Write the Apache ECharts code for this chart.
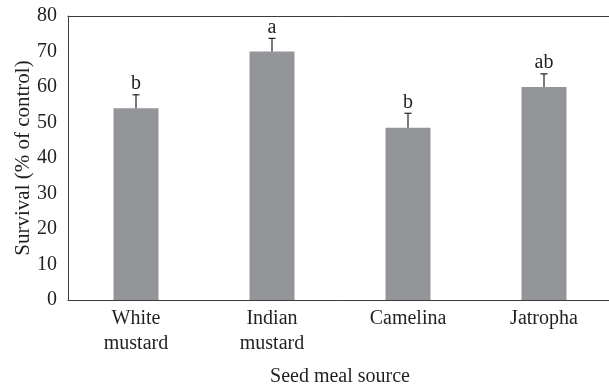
<!DOCTYPE html>
<html>
<head>
<meta charset="utf-8">
<script src="https://cdn.jsdelivr.net/npm/echarts@6/dist/echarts.min.js"></script>
<style>
  html, body { margin: 0; padding: 0; background: #fff; }
  #chart { width: 609px; height: 385px; }
</style>
</head>
<body>
<div id="chart"></div>
<script>
// Seed meal sources and mean survival (% of control)
const categories = ['White\nmustard', 'Indian\nmustard', 'Camelina', 'Jatropha'];
const survival = [54, 70, 48.5, 60];
// Upper end of each error bar
const errorTop = [57.8, 73.7, 52.6, 63.7];
// Significance letters
const letters = ['b', 'a', 'b', 'ab'];
const yTicks = { min: 0, max: 80, interval: 10 };

const FONT = '"Liberation Serif", "DejaVu Serif", serif';
const INK = '#231f20';
const AXIS = '#3a3a3a';
const FS = 20;

const chart = echarts.init(document.getElementById('chart'), null, { renderer: 'canvas' });

chart.setOption({
  animation: false,
  grid: {
    left: 68, top: 16, right: -3, bottom: 85,
    outerBoundsMode: 'none'
  },
  xAxis: [
    {
      type: 'category',
      data: categories,
      name: 'Seed meal source',
      nameLocation: 'middle',
      nameGap: 67,
      nameMoveOverlap: false,
      nameTextStyle: { fontFamily: FONT, fontSize: FS, color: INK },
      axisLine: { lineStyle: { color: AXIS, width: 1 } },
      axisTick: { show: false },
      axisLabel: { fontFamily: FONT, fontSize: FS, color: INK, lineHeight: 25, margin: 6 }
    },
    {
      // top frame line
      type: 'category',
      data: categories,
      position: 'top',
      axisLine: { show: true, lineStyle: { color: AXIS, width: 1 } },
      axisTick: { show: false },
      axisLabel: { show: false }
    }
  ],
  yAxis: {
    type: 'value',
    min: yTicks.min, max: yTicks.max, interval: yTicks.interval,
    name: 'Survival (% of control)',
    nameLocation: 'middle',
    nameGap: 34,
    nameMoveOverlap: false,
    nameTextStyle: { fontFamily: FONT, fontSize: 21, color: INK },
    axisLine: { show: true, lineStyle: { color: AXIS, width: 1 } },
    axisTick: { show: false },
    splitLine: { show: false },
    axisLabel: { fontFamily: FONT, fontSize: FS, color: INK, margin: 11 }
  },
  series: [
    {
      type: 'bar',
      data: survival,
      barWidth: 45,
      itemStyle: { color: '#939598' }
    },
    {
      type: 'custom',
      data: survival.map((v, i) => [i, v, errorTop[i]]),
      z: 3,
      renderItem: function (params, api) {
        const i = api.value(0);
        const base = api.coord([i, api.value(1)]);
        const top = api.coord([i, api.value(2)]);
        const cap = 3.5;
        return {
          type: 'group',
          children: [
            { type: 'line', shape: { x1: base[0], y1: base[1], x2: top[0], y2: top[1] },
              style: { stroke: INK, lineWidth: 1.2 } },
            { type: 'line', shape: { x1: top[0] - cap, y1: top[1], x2: top[0] + cap, y2: top[1] },
              style: { stroke: INK, lineWidth: 1.2 } },
            { type: 'text', x: top[0], y: top[1] - 1,
              style: { text: letters[i], fontFamily: FONT, fontSize: FS, fill: INK,
                       align: 'center', verticalAlign: 'bottom' } }
          ]
        };
      }
    }
  ]
});
</script>
</body>
</html>
